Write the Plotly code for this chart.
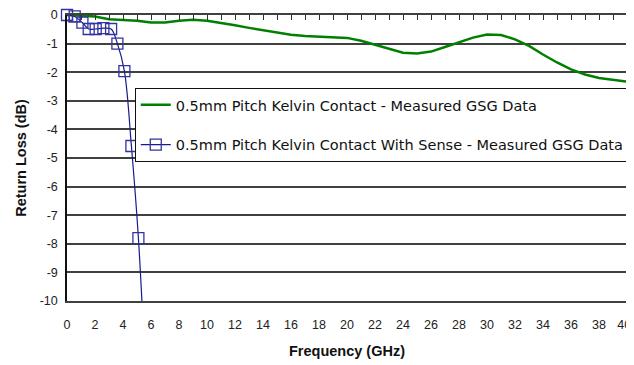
import plotly.graph_objects as go

# Green series: Kelvin contact, measured GSG data
freq_green = list(range(0, 41))
rl_green = [0, -0.02, -0.05, -0.15, -0.18, -0.2, -0.26, -0.26, -0.2, -0.17,
            -0.2, -0.27, -0.36, -0.45, -0.53, -0.62, -0.69, -0.73, -0.76, -0.78,
            -0.8, -0.9, -1.04, -1.2, -1.32, -1.35, -1.28, -1.12, -0.95, -0.79,
            -0.68, -0.7, -0.85, -1.08, -1.38, -1.66, -1.9, -2.08, -2.2, -2.27, -2.33]

# Blue series: Kelvin contact with sense
freq_blue = [0, 0.55, 1.1, 1.55, 2.05, 2.6, 3.15, 3.6, 4.1, 4.6, 5.1, 5.6]
rl_blue = [0, -0.05, -0.27, -0.49, -0.49, -0.46, -0.49, -1.0, -1.96, -4.58, -7.8, -12.5]

name_green = "0.5mm Pitch Kelvin Contact - Measured GSG Data"
name_blue = "0.5mm Pitch Kelvin Contact With Sense - Measured GSG Data"

x_ticks = list(range(0, 41, 2))
x_tick_text = [str(v) for v in x_ticks]
x_label_pos = x_ticks[:-1] + [39.8]   # last label nudged to stay inside the window
y_ticks = list(range(-10, 1))
y_tick_text = [str(v) for v in y_ticks]

blue_marker = dict(symbol="square-open", size=11, color="#3333a0",
                   line=dict(width=1.3, color="#3333a0"))

fig = go.Figure()
fig.add_trace(go.Scatter(
    x=freq_green, y=rl_green, mode="lines", name=name_green,
    line=dict(color="#008000", width=2.5), legendgroup="g1"))
fig.add_trace(go.Scatter(
    x=freq_blue, y=rl_blue, mode="lines+markers", name=name_blue,
    line=dict(color="#1a1a8c", width=1.2, shape="spline", smoothing=1),
    marker=blue_marker, legendgroup="g2"))
# markers touching the top axis drawn unclipped so they show fully
edge = [i for i, v in enumerate(rl_blue) if v > -0.2]
fig.add_trace(go.Scatter(
    x=[freq_blue[i] for i in edge], y=[rl_blue[i] for i in edge], mode="markers",
    marker=blue_marker, cliponaxis=False, showlegend=False, hoverinfo="skip"))
# invisible trace to carry the labelled bottom axis
fig.add_trace(go.Scatter(x=[0, 40], y=[0, 0], xaxis="x2", mode="lines",
                         line=dict(width=0), showlegend=False, hoverinfo="skip"))

tick_font = dict(family="Liberation Sans, Arial", size=12.5, color="#222")
title_font = dict(family="Liberation Sans, Arial", size=14.5, color="#111", weight="bold")

fig.update_layout(
    width=634, height=365,
    margin=dict(l=59, r=15, t=7, b=72, autoexpand=False),
    paper_bgcolor="white", plot_bgcolor="white",
    # main x axis sits at the top (y = 0) with small inward ticks
    xaxis=dict(range=[0, 40], side="top", showticklabels=False,
               tickmode="linear", tick0=0, dtick=1,
               ticks="inside", ticklen=5, tickwidth=1, tickcolor="#303030",
               showgrid=False, zeroline=False, showline=True,
               linecolor="#404040", linewidth=1.5, mirror=True, automargin=False),
    # labelled axis at the bottom
    xaxis2=dict(range=[0, 40], overlaying="x", anchor="y", side="bottom",
                tickvals=x_label_pos, ticktext=x_tick_text, ticks="",
                showgrid=False, zeroline=False,
                showline=False, tickfont=tick_font, ticklabelstandoff=14,
                ticklabeloverflow="allow", automargin=False,
                title=dict(text="Frequency (GHz)", standoff=15, font=title_font)),
    yaxis=dict(range=[-10, 0], tickvals=y_ticks, ticktext=y_tick_text,
               showgrid=True, gridcolor="#404040", gridwidth=1.5, zeroline=False,
               showline=True, linecolor="#111", linewidth=1.5, ticks="",
               tickfont=tick_font, ticklabelstandoff=5, automargin=False,
               ticklabeloverflow="allow",
               title=dict(text="Return Loss (dB)", standoff=10, font=title_font)),
    legend=dict(x=0.121, y=0.745, xanchor="left", yanchor="top",
                bgcolor="white", bordercolor="#111", borderwidth=1,
                traceorder="grouped", tracegroupgap=18,
                font=dict(family="DejaVu Sans", size=14.5, color="#111")),
    showlegend=True,
)

fig.write_html("out.html")
